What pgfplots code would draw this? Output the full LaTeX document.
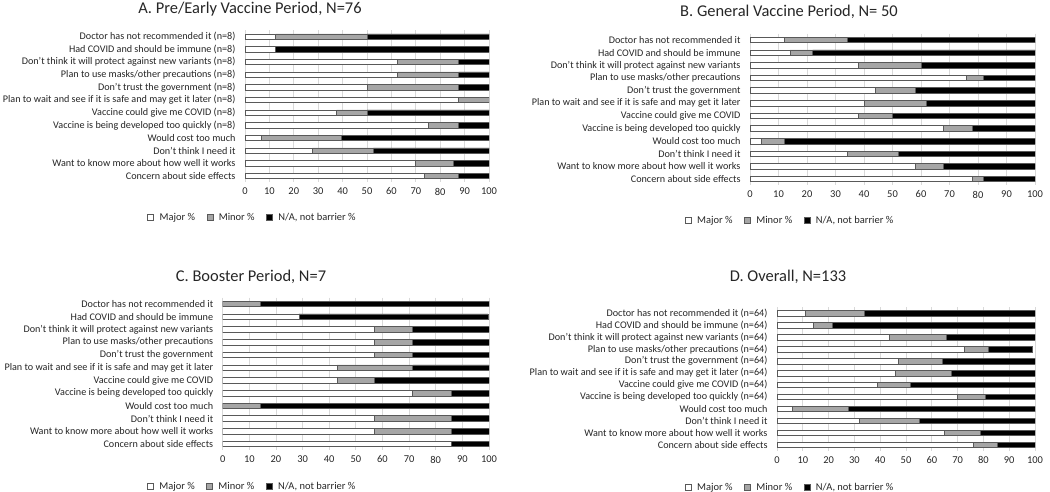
\documentclass[border=0pt]{standalone}
\usepackage{fontspec}
\setmainfont{Carlito}
\usepackage{pgfplots}
\usepackage{pgfplotstable}
\pgfplotsset{compat=1.18}

\definecolor{minorgray}{HTML}{A6A6A6}
\definecolor{edgegray}{HTML}{595959}
\definecolor{gridgray}{HTML}{D9D9D9}
\definecolor{txt}{HTML}{262626}

\pgfplotsset{
  panel/.style={
    xbar stacked, scale only axis,
    xmin=0, xmax=100, ymin=0.5, ymax=12.5, y dir=reverse,
    axis line style={draw=none}, tick style={draw=none},
    xtick={0,10,...,100}, ytick={1,...,12},
    xmajorgrids, grid style={gridgray, line width=0.8bp},
    bar width=5.5bp,
    /pgf/number format/assume math mode=true,
    tick label style={font=\fontsize{10.5}{12}\selectfont, text=txt},
    y tick label style={font=\fontsize{10.2}{11}\selectfont, xshift=-6bp},
    x tick label style={yshift=-2bp},
    legend columns=3,
    legend style={draw=none, fill=none, anchor=center,
      font=\fontsize{10.5}{12}\selectfont, text=txt,
      nodes={inner sep=1.5bp},
      /tikz/every even column/.append style={column sep=10bp}},
    legend image code/.code={\draw[##1] (0bp,-2.5bp) rectangle (6bp,3.5bp);
      \path (10bp,0bp);},
  },
  majb/.style={fill=white, draw=edgegray, line width=0.7bp},
  minb/.style={fill=minorgray, draw=edgegray, line width=0.7bp},
  nab/.style={fill=black, draw=edgegray, line width=0.7bp},
}

% rows: 1 Doctor, 2 Had COVID, 3 variants, 4 masks, 5 government, 6 wait,
% 7 give COVID, 8 too quickly, 9 cost, 10 need, 11 know more, 12 side effects
\pgfplotstableread{
row maj min na
1 12.5 37.5 50
2 12.5 0 87.5
3 62.5 25 12.5
4 62.5 25 12.5
5 50 37.5 12.5
6 87.5 12.5 0
7 37.5 12.5 50
8 75 12.5 12.5
9 6.6 32.9 60.5
10 27.6 25.0 47.4
11 69.7 15.8 14.5
12 73.7 13.8 12.5
}\dataA

\pgfplotstableread{
row maj min na
1 12 22 66
2 14 8 78
3 38 22 40
4 76 6 18
5 44 14 42
6 40 22 38
7 38 12 50
8 68 10 22
9 4 8 88
10 34 18 48
11 58 10 32
12 78 4 18
}\dataB

\pgfplotstableread{
row maj min na
1 0 14.3 85.7
2 28.6 0 71.0
3 57.1 14.3 28.6
4 57.1 14.3 28.6
5 57.1 14.3 28.6
6 42.9 28.5 28.6
7 42.9 14.2 42.9
8 71.4 14.3 14.3
9 0 14.3 85.7
10 57.1 28.6 14.3
11 57.1 28.6 14.3
12 85.7 0 14.3
}\dataC

\pgfplotstableread{
row maj min na
1 11 22.8 66.2
2 14 7.5 78.5
3 43.7 22 34.3
4 72.8 9.1 17.2
5 47 17.2 35.8
6 45.7 22 32.3
7 38.9 12.8 48.3
8 70 10.9 19.1
9 5.8 22 72.2
10 31.8 23.2 45
11 64.8 13.9 21.3
12 76.1 9.3 14.6
}\dataD

\begin{document}
\begin{tikzpicture}
\path[use as bounding box] (0,0) rectangle (1050bp,-492bp);

% A
\begin{axis}[panel, at={(245bp,-30.4bp)}, anchor=north west,
  width=244bp, height=152bp,
  yticklabels={Doctor has not recommended it (n=8),
    Had COVID and should be immune (n=8),
    Don’t think it will protect against new variants (n=8),
    Plan to use masks/other precautions (n=8),
    Don’t trust the government (n=8),
    Plan to wait and see if it is safe and may get it later (n=8),
    Vaccine could give me COVID (n=8),
    Vaccine is being developed too quickly (n=8),
    Would cost too much,
    Don’t think I need it,
    Want to know more about how well it works,
    Concern about side effects},
  legend style={at={(0.03,-0.234)}}]
\addplot[majb] table[x=maj,y=row]{\dataA};
\addlegendentry{Major \%}
\addplot[minb] table[x=min,y=row]{\dataA};
\addlegendentry{Minor \%}
\addplot[nab] table[x=na,y=row]{\dataA};
\addlegendentry{N/A, not barrier \%}
\end{axis}

% B
\begin{axis}[panel, at={(750bp,-33.7bp)}, anchor=north west,
  width=285bp, height=151.7bp,
  yticklabels={Doctor has not recommended it,
    Had COVID and should be immune,
    Don’t think it will protect against new variants,
    Plan to use masks/other precautions,
    Don’t trust the government,
    Plan to wait and see if it is safe and may get it later,
    Vaccine could give me COVID,
    Vaccine is being developed too quickly,
    Would cost too much,
    Don’t think I need it,
    Want to know more about how well it works,
    Concern about side effects},
  legend style={at={(0.14,-0.235)}}]
\addplot[majb] table[x=maj,y=row]{\dataB};
\addlegendentry{Major \%}
\addplot[minb] table[x=min,y=row]{\dataB};
\addlegendentry{Minor \%}
\addplot[nab] table[x=na,y=row]{\dataB};
\addlegendentry{N/A, not barrier \%}
\end{axis}

% C
\begin{axis}[panel, at={(222.7bp,-297.6bp)}, anchor=north west,
  width=266.3bp, height=152.8bp,
  yticklabels={Doctor has not recommended it,
    Had COVID and should be immune,
    Don’t think it will protect against new variants,
    Plan to use masks/other precautions,
    Don’t trust the government,
    Plan to wait and see if it is safe and may get it later,
    Vaccine could give me COVID,
    Vaccine is being developed too quickly,
    Would cost too much,
    Don’t think I need it,
    Want to know more about how well it works,
    Concern about side effects},
  legend style={at={(0.11,-0.2395)}}]
\addplot[majb] table[x=maj,y=row]{\dataC};
\addlegendentry{Major \%}
\addplot[minb] table[x=min,y=row]{\dataC};
\addlegendentry{Minor \%}
\addplot[nab] table[x=na,y=row]{\dataC};
\addlegendentry{N/A, not barrier \%}
\end{axis}

% D
\begin{axis}[panel, at={(777bp,-307.3bp)}, anchor=north west,
  width=258bp, height=143.6bp,
  yticklabels={Doctor has not recommended it (n=64),
    Had COVID and should be immune (n=64),
    Don’t think it will protect against new variants (n=64),
    Plan to use masks/other precautions (n=64),
    Don’t trust the government (n=64),
    Plan to wait and see if it is safe and may get it later (n=64),
    Vaccine could give me COVID (n=64),
    Vaccine is being developed too quickly (n=64),
    Would cost too much,
    Don’t think I need it,
    Want to know more about how well it works,
    Concern about side effects},
  legend style={at={(0.05,-0.258)}}]
\addplot[majb] table[x=maj,y=row]{\dataD};
\addlegendentry{Major \%}
\addplot[minb] table[x=min,y=row]{\dataD};
\addlegendentry{Minor \%}
\addplot[nab] table[x=na,y=row]{\dataD};
\addlegendentry{N/A, not barrier \%}
\end{axis}

\begin{scope}[every node/.style={anchor=base, text=txt, font=\fontsize{16.5}{18}\selectfont}]
\node at (250bp,-13bp) {A. Pre/Early Vaccine Period, N=76};
\node at (789bp,-16.5bp) {B. General Vaccine Period, N= 50};
\node at (251bp,-281.5bp) {C. Booster Period, N=7};
\node at (788bp,-281.5bp) {D. Overall, N=133};
\end{scope}
\end{tikzpicture}
\end{document}
